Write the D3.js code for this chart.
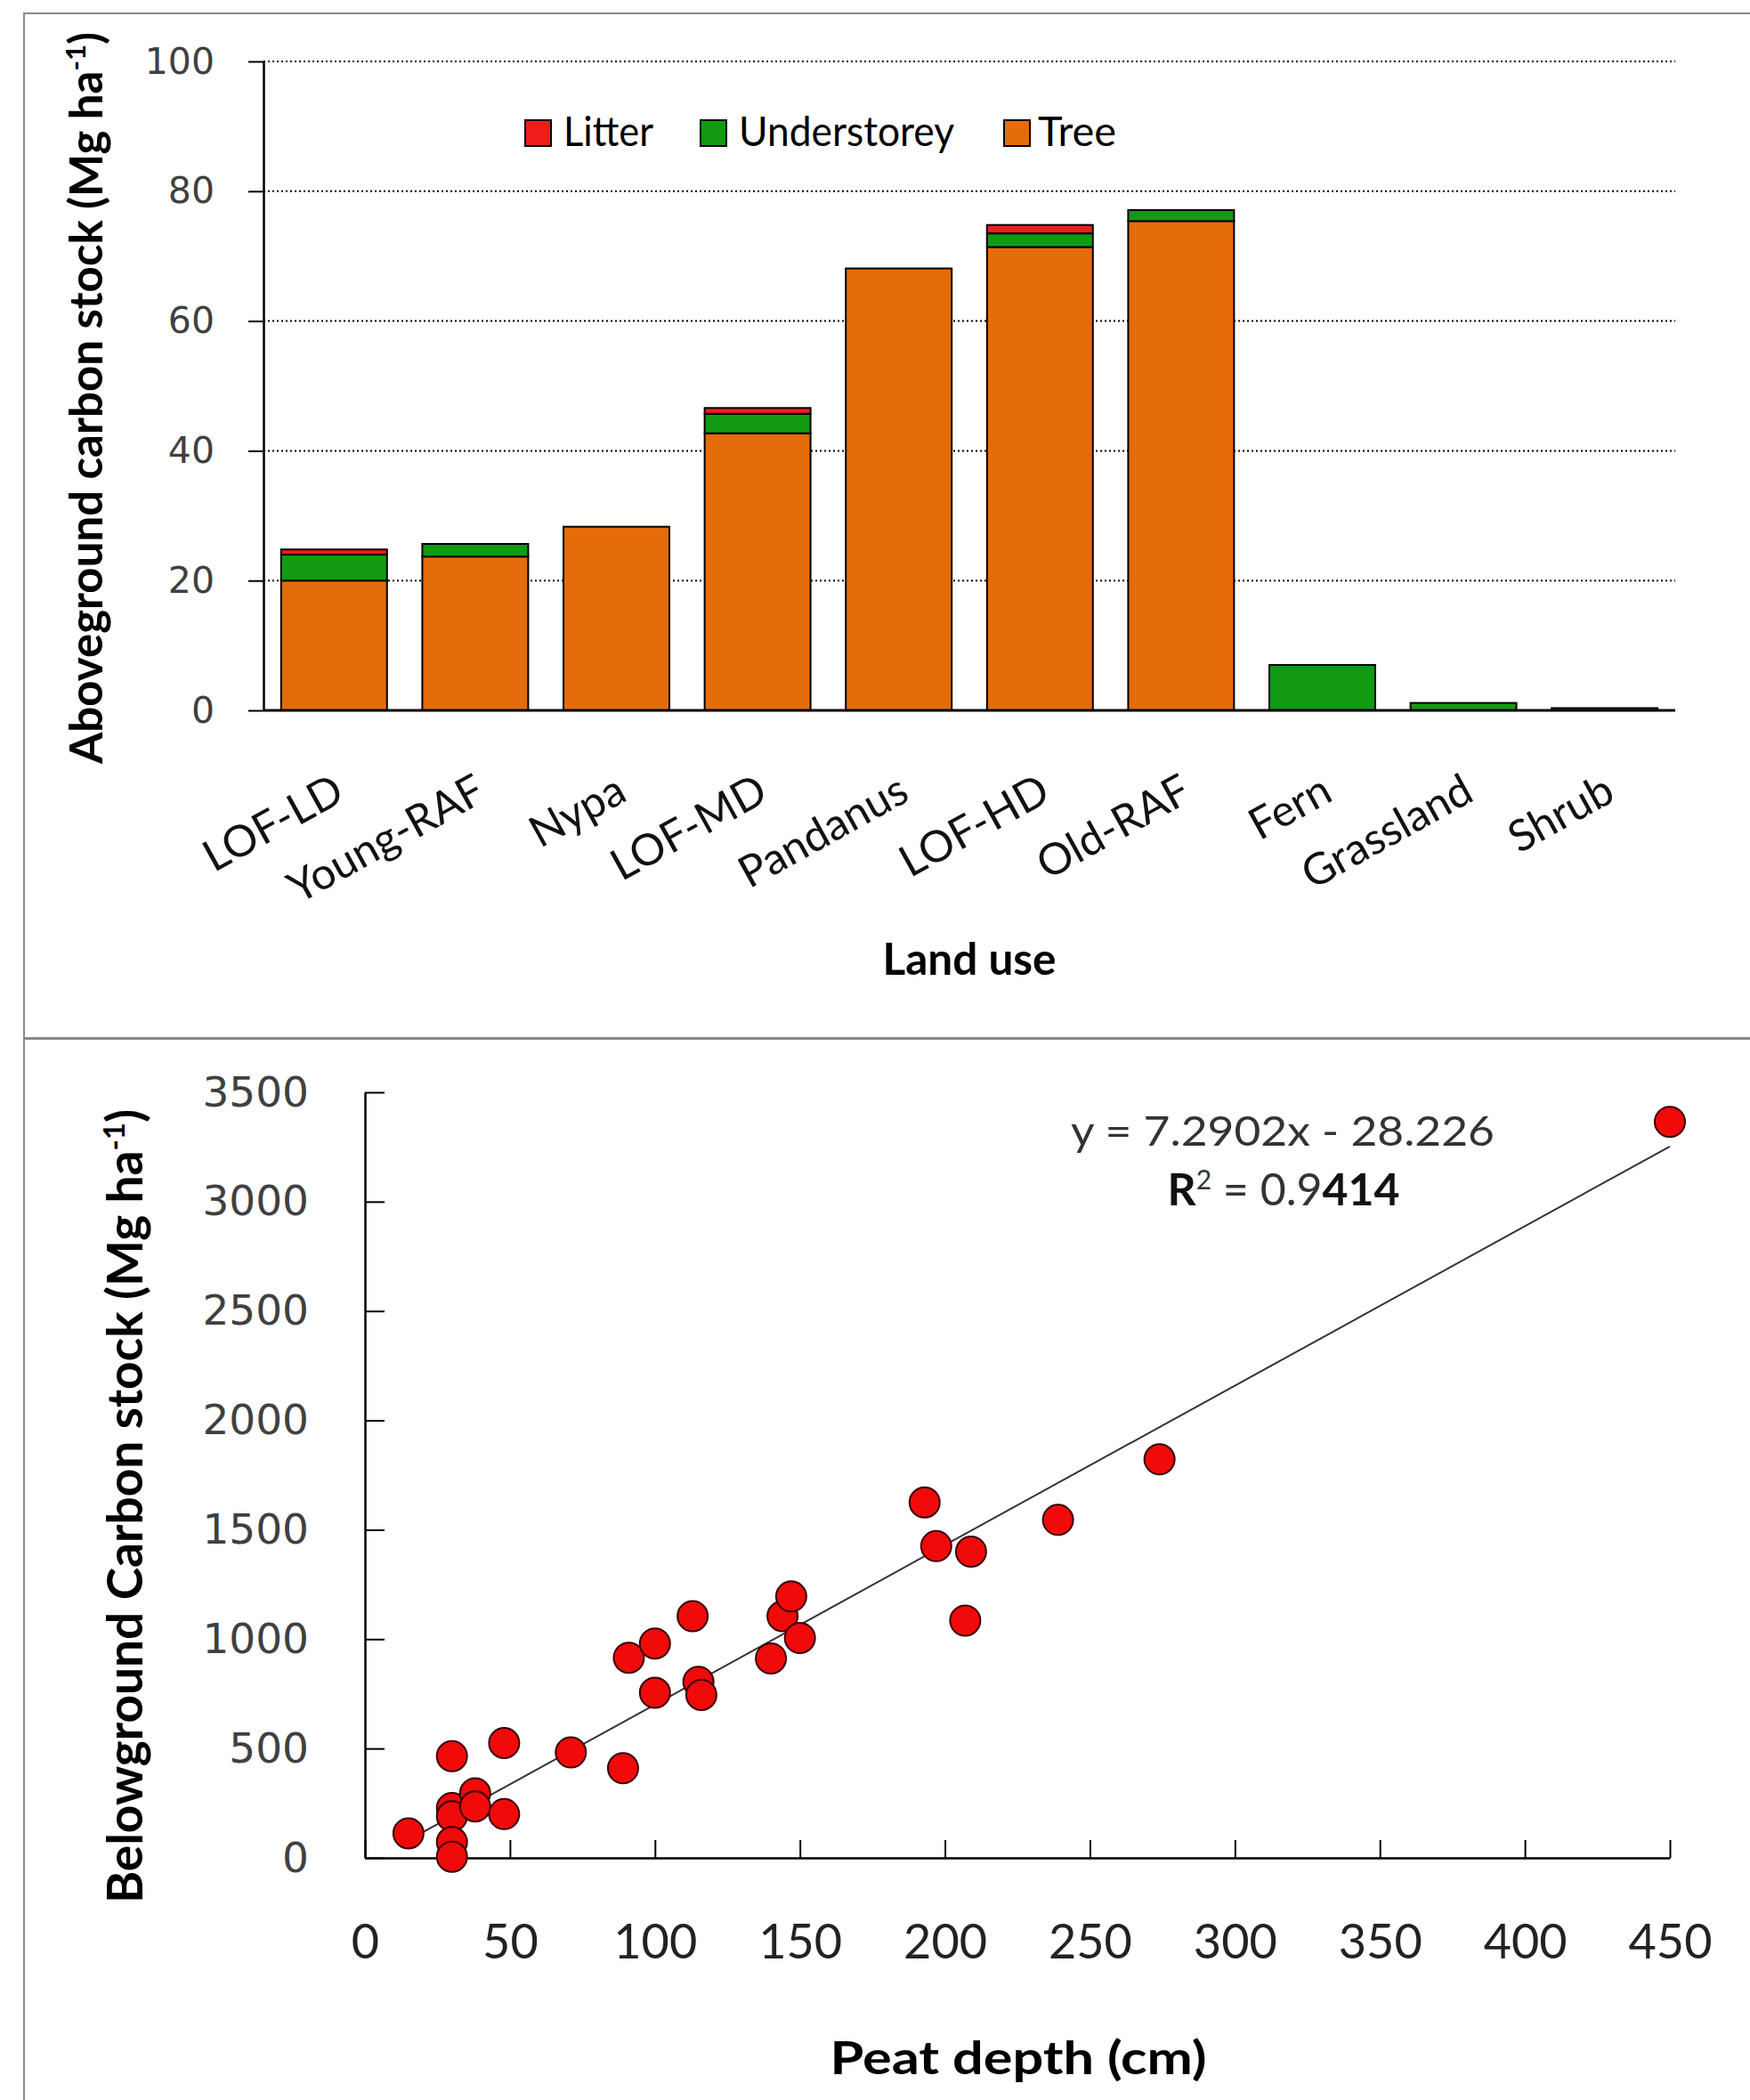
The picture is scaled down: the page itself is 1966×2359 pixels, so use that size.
<!DOCTYPE html>
<html><head><meta charset="utf-8">
<script src="https://cdn.jsdelivr.net/npm/d3@7"></script>
<style>body{margin:0;background:#fff}svg{display:block}</style>
</head><body>
<script>
// ---------- DATA: top panel (aboveground carbon stock, Mg ha-1) ----------
const categories = ["LOF-LD","Young-RAF","Nypa","LOF-MD","Pandanus","LOF-HD","Old-RAF","Fern","Grassland","Shrub"];
const treeC        = [20.0, 23.7, 28.3, 42.7, 68.1, 71.4, 75.4, 0, 0, 0];
const understoreyC = [4.0, 1.95, 0, 3.0, 0, 2.1, 1.7, 7.0, 1.15, 0.35];
const litterC      = [0.8, 0, 0, 0.9, 0, 1.3, 0, 0, 0, 0];
const stackKeys  = ["Tree","Understorey","Litter"];
const legendKeys = ["Litter","Understorey","Tree"];
const yTicksTop  = [0,20,40,60,80,100];

// ---------- DATA: bottom panel (belowground carbon vs peat depth) ----------
const peatDepth   = [15, 30, 30, 30, 30, 30, 38, 38, 48, 48, 71, 89, 91, 100, 100, 113, 115, 116, 140, 144, 147, 150, 193, 197, 209, 207, 239, 274, 450];
const belowCarbon = [112, 465, 228, 190, 72, 5, 295, 235, 525, 200, 482, 410, 915, 980, 755, 1105, 805, 745, 912, 1105, 1195, 1005, 1625, 1425, 1400, 1085, 1545, 1822, 3365];
const fitSlope = 7.2902, fitIntercept = -28.226, fitR2 = "0.9414";
const xTicksBottom = [0,50,100,150,200,250,300,350,400,450];
const yTicksBottom = [0,500,1000,1500,2000,2500,3000,3500];

const colors = {Tree:"#E46C0A", Understorey:"#129A12", Litter:"#EE1C1C"};
const SANS = "Lato, 'Open Sans', sans-serif";
const WIDE = "'DejaVu Sans', Verdana, sans-serif";

const W = 1966, H = 2359;
const svg = d3.select("body").append("svg").attr("width", W).attr("height", H);
svg.append("rect").attr("width", W).attr("height", H).attr("fill", "#fff");

// panel frames
svg.append("rect").attr("x", 27).attr("y", 15).attr("width", W).attr("height", 1151)
  .attr("fill", "none").attr("stroke", "#8a8a8a").attr("stroke-width", 2);
svg.append("rect").attr("x", 27).attr("y", 1167).attr("width", W).attr("height", 1300)
  .attr("fill", "none").attr("stroke", "#8a8a8a").attr("stroke-width", 2);

// ================= TOP PANEL =================
const tx = d3.scaleBand().domain(categories).range([296, 1882]).paddingInner(0.25).paddingOuter(0.125);
const ty = d3.scaleLinear().domain([0, 100]).range([798, 69]);

const topG = svg.append("g");
// dotted gridlines
topG.selectAll("line.grid").data(yTicksTop.filter(d => d > 0)).join("line")
  .attr("x1", 296).attr("x2", 1882).attr("y1", d => ty(d)).attr("y2", d => ty(d))
  .attr("stroke", "#000").attr("stroke-width", 2).attr("stroke-dasharray", "2,3");

const rows = categories.map((c, i) => ({cat: c, Tree: treeC[i], Understorey: understoreyC[i], Litter: litterC[i]}));
const series = d3.stack().keys(stackKeys)(rows);
topG.selectAll("g.series").data(series).join("g")
  .attr("fill", d => colors[d.key])
  .selectAll("rect").data(d => d.filter(s => s[1] - s[0] > 0)).join("rect")
  .attr("x", d => tx(d.data.cat)).attr("width", tx.bandwidth())
  .attr("y", d => ty(d[1])).attr("height", d => ty(d[0]) - ty(d[1]))
  .attr("stroke", "#000").attr("stroke-width", 2);

// y axis
const yAxTop = topG.append("g").attr("transform", "translate(296,0)")
  .call(d3.axisLeft(ty).tickValues(yTicksTop).tickSizeInner(17).tickSizeOuter(0).tickPadding(38));
yAxTop.select(".domain").attr("stroke", "#000").attr("stroke-width", 2.5);
yAxTop.selectAll(".tick line").attr("stroke", "#000").attr("stroke-width", 2);
yAxTop.selectAll("text").attr("font-family", WIDE).attr("font-size", 41).attr("fill", "#404040");

// x axis
const xAxTop = topG.append("g").attr("transform", "translate(0,798)")
  .call(d3.axisBottom(tx).tickSize(0).tickSizeOuter(0));
xAxTop.select(".domain").attr("stroke", "#000").attr("stroke-width", 3).attr("d", "M296,0H1882");
xAxTop.selectAll("text").attr("font-family", SANS).attr("font-size", 49).attr("fill", "#111")
  .attr("text-anchor", "end").attr("dy", 0).attr("y", 0)
  .attr("transform", "translate(14,100) rotate(-29)");

// axis titles
topG.append("text").attr("transform", "translate(115,447) rotate(-90)")
  .attr("text-anchor", "middle").attr("font-family", SANS).attr("font-weight", 700)
  .attr("font-size", 51).attr("fill", "#000")
  .call(t => { t.append("tspan").text("Aboveground carbon stock (Mg ha");
               t.append("tspan").text("-1").attr("font-size", 31).attr("baseline-shift", "super");
               t.append("tspan").text(")"); });
topG.append("text").attr("x", 1089).attr("y", 1095).attr("text-anchor", "middle")
  .attr("font-family", SANS).attr("font-weight", 700).attr("font-size", 50)
  .attr("textLength", 195).attr("lengthAdjust", "spacingAndGlyphs").text("Land use");

// legend
const legX = {Litter: [590, 633, 101], Understorey: [787, 830, 242], Tree: [1128, 1166, 88]};
const leg = topG.selectAll("g.leg").data(legendKeys).join("g");
leg.append("rect").attr("x", d => legX[d][0]).attr("y", 135).attr("width", 29).attr("height", 29)
  .attr("fill", d => colors[d]).attr("stroke", "#000").attr("stroke-width", 2);
leg.append("text").attr("x", d => legX[d][1]).attr("y", 164)
  .attr("font-family", SANS).attr("font-size", 47).attr("fill", "#000")
  .attr("textLength", d => legX[d][2]).attr("lengthAdjust", "spacingAndGlyphs").text(d => d);

// ================= BOTTOM PANEL =================
const bx = d3.scaleLinear().domain([0, 450]).range([410, 1876]);
const by = d3.scaleLinear().domain([0, 3500]).range([2087, 1227]);
const bot = svg.append("g");

const yAxB = bot.append("g").attr("transform", "translate(410,0)")
  .call(d3.axisLeft(by).tickValues(yTicksBottom).tickFormat(d3.format("d"))
    .tickSizeInner(-22).tickSizeOuter(0).tickPadding(63));
yAxB.select(".domain").attr("stroke", "#000").attr("stroke-width", 2.5);
yAxB.selectAll(".tick line").attr("stroke", "#000").attr("stroke-width", 2);
yAxB.selectAll("text").attr("font-family", WIDE).attr("font-size", 47).attr("fill", "#404040");

const xAxB = bot.append("g").attr("transform", "translate(0,2087)")
  .call(d3.axisBottom(bx).tickValues(xTicksBottom).tickFormat(d3.format("d"))
    .tickSizeInner(-20).tickSizeOuter(0).tickPadding(75));
xAxB.select(".domain").attr("stroke", "#000").attr("stroke-width", 2.5);
xAxB.selectAll(".tick line").attr("stroke", "#000").attr("stroke-width", 2);
xAxB.selectAll("text").attr("font-family", SANS).attr("font-size", 54).attr("fill", "#222");

// regression line
const xr = d3.extent(peatDepth);
bot.append("line").attr("x1", bx(xr[0])).attr("y1", by(fitSlope * xr[0] + fitIntercept))
  .attr("x2", bx(xr[1])).attr("y2", by(fitSlope * xr[1] + fitIntercept))
  .attr("stroke", "#333").attr("stroke-width", 2);

// points
bot.selectAll("circle").data(peatDepth.map((d, i) => [d, belowCarbon[i]])).join("circle")
  .attr("cx", d => bx(d[0])).attr("cy", d => by(d[1])).attr("r", 17)
  .attr("fill", "#F00A0A").attr("stroke", "#3a0000").attr("stroke-width", 2);

// equation
bot.append("text").attr("x", 1441).attr("y", 1287).attr("text-anchor", "middle")
  .attr("font-family", SANS).attr("font-size", 46).attr("fill", "#333")
  .attr("textLength", 476).attr("lengthAdjust", "spacingAndGlyphs")
  .text(`y = ${fitSlope}x - ${Math.abs(fitIntercept)}`);
bot.append("text").attr("x", 1442).attr("y", 1354).attr("text-anchor", "middle")
  .attr("font-family", SANS).attr("font-size", 50).attr("fill", "#333")
  .call(t => { t.append("tspan").text("R").attr("font-weight", 700).attr("fill", "#111");
               t.append("tspan").text("2").attr("font-size", 30).attr("baseline-shift", "super");
               t.append("tspan").text(" = " + fitR2.slice(0, 3));
               t.append("tspan").text(fitR2.slice(3)).attr("font-weight", 700).attr("fill", "#111"); });

// axis titles
bot.append("text").attr("transform", "translate(160,1692) rotate(-90)")
  .attr("text-anchor", "middle").attr("font-family", SANS).attr("font-weight", 700)
  .attr("font-size", 55).attr("fill", "#000")
  .call(t => { t.append("tspan").text("Belowground Carbon stock (Mg ha");
               t.append("tspan").text("-1").attr("font-size", 33).attr("baseline-shift", "super");
               t.append("tspan").text(")"); });
bot.append("text").attr("x", 1144).attr("y", 2330).attr("text-anchor", "middle")
  .attr("font-family", SANS).attr("font-weight", 700).attr("font-size", 52)
  .attr("textLength", 423).attr("lengthAdjust", "spacingAndGlyphs").text("Peat depth (cm)");
</script>
</body></html>
